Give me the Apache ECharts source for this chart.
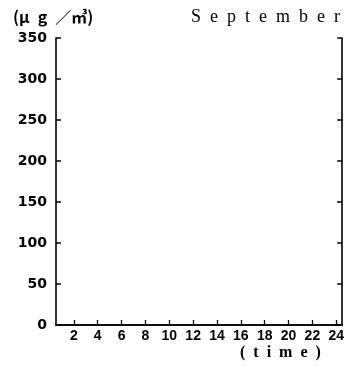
<!DOCTYPE html>
<html><head><meta charset="utf-8">
<script src="https://cdn.jsdelivr.net/npm/echarts@6/dist/echarts.min.js"></script>
<style>html,body{margin:0;padding:0;background:#fff}#c{width:347px;height:366px}</style>
</head><body><div id="c"></div>
<script>
const hours = ['1','2','3','4','5','6','7','8','9','10','11','12','13','14','15','16','17','18','19','20','21','22','23','24'];
const concentration = []; // no observations plotted in September
const yMin = 0, yMax = 350, yStep = 50;
const unitLabel = '(μ\u2002g\u2002／㎥)';
const monthLabel = 'S\u2002e\u2002p\u2002t\u2002e\u2002m\u2002b\u2002e\u2002r';
const xName = '(\u2002t\u2002i\u2002m\u2002e\u2002)';

const chart = echarts.init(document.getElementById('c'), null, {renderer: 'canvas'});
const lineStyle = {color: '#000', width: 1.6};
chart.setOption({
  animation: false,
  backgroundColor: '#fff',
  title: [
    {text: unitLabel, left: 8, top: 4, textStyle: {fontFamily: 'Noto Sans CJK JP', fontSize: 16, fontWeight: 'bold', color: '#000'}},
    {text: monthLabel, right: 2, top: 3, textStyle: {fontFamily: 'Liberation Serif', fontSize: 18, fontWeight: 'normal', color: '#000'}},
    {text: xName, left: 235, top: 340, textStyle: {fontFamily: 'Liberation Serif', fontSize: 16, fontWeight: 'bold', color: '#000'}}
  ],
  grid: {left: 56, right: 4, top: 38, bottom: 41, show: false},
  xAxis: [
    {type: 'category', data: hours, boundaryGap: true, position: 'bottom',
     axisLine: {show: true, lineStyle: lineStyle},
     axisTick: {show: true, inside: true, alignWithLabel: true, length: 5, lineStyle: {color: '#000', width: 1.3}},
     axisLabel: {interval: function (i) { return i % 2 === 1; }, margin: 4, color: '#000', fontFamily: 'Liberation Sans', fontWeight: 'bold', fontSize: 14},
     splitLine: {show: false}},
    {type: 'category', data: hours, boundaryGap: true, position: 'top',
     axisLine: {show: true, lineStyle: lineStyle},
     axisTick: {show: false}, axisLabel: {show: false}, splitLine: {show: false}}
  ],
  yAxis: [
    {type: 'value', min: yMin, max: yMax, interval: yStep, position: 'left',
     axisLine: {show: true, lineStyle: lineStyle},
     axisTick: {show: true, inside: true, length: 5, lineStyle: {color: '#000', width: 1.5}},
     axisLabel: {margin: 9, color: '#000', fontFamily: 'DejaVu Sans', fontWeight: 'bold', fontSize: 14},
     splitLine: {show: false}},
    {type: 'value', min: yMin, max: yMax, interval: yStep, position: 'right',
     axisLine: {show: true, lineStyle: lineStyle},
     axisTick: {show: true, inside: true, length: 5, lineStyle: {color: '#000', width: 1.5}},
     axisLabel: {show: false}, splitLine: {show: false}}
  ],
  series: [{type: 'line', data: concentration, xAxisIndex: 0, yAxisIndex: 0, symbol: 'none', lineStyle: {color: '#000'}}]
});
</script></body></html>
